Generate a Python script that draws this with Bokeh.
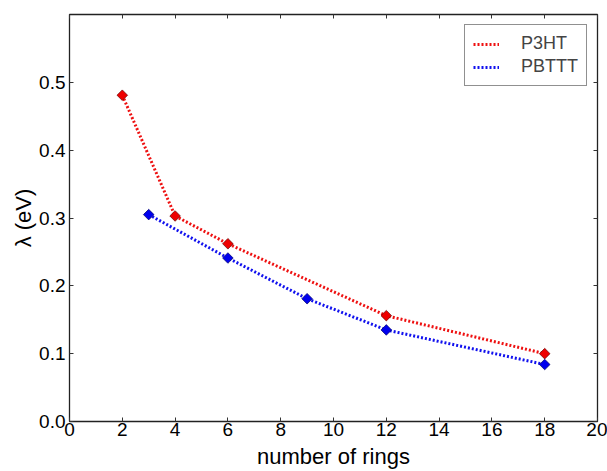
import numpy as np
from bokeh.plotting import figure
from bokeh.models import (LinearAxis, FixedTicker, NumeralTickFormatter, Legend,
                          LegendItem, Range1d, CustomLabelingPolicy)
from bokeh.embed import file_html
from bokeh.resources import INLINE

# data
rings_p3ht = [2, 4, 6, 12, 18]
lam_p3ht = [0.481, 0.303, 0.262, 0.156, 0.100]
rings_pbttt = [3, 6, 9, 12, 18]
lam_pbttt = [0.305, 0.241, 0.181, 0.135, 0.084]
series_names = ["P3HT", "PBTTT"]
x_ticks = [0, 2, 4, 6, 8, 10, 12, 14, 16, 18, 20]
y_ticks = [0.0, 0.1, 0.2, 0.3, 0.4, 0.5]

FONT = "Liberation Sans"

p = figure(width=607, height=471,
           x_range=Range1d(0, 20), y_range=Range1d(0, 0.6),
           output_backend="svg", toolbar_location=None,
           min_border_left=69, min_border_top=14, min_border_right=10,
           min_border_bottom=49)
p.xgrid.visible = False
p.ygrid.visible = False
p.outline_line_color = "#222222"
p.outline_line_width = 1.3
p.background_fill_color = "white"
p.border_fill_color = "white"

xa = p.below[0]
ya = p.left[0]
for ax, ticks in ((xa, x_ticks), (ya, y_ticks)):
    ax.ticker = FixedTicker(ticks=ticks)
    ax.major_tick_in = 4
    ax.major_tick_out = 0
    ax.minor_tick_line_color = None
    ax.axis_line_color = None
    ax.major_tick_line_color = "#333333"
    ax.major_label_text_font = FONT
    ax.major_label_text_font_size = "19px"
    ax.major_label_text_color = "black"
    ax.axis_label_text_font = FONT
    ax.axis_label_text_font_size = "22px"
    ax.axis_label_text_font_style = "normal"
    ax.axis_label_text_color = "black"
ya.formatter = NumeralTickFormatter(format="0.0")
xa.major_label_standoff = 1
ya.major_label_standoff = 4
xa.axis_label = "number of rings"
xa.axis_label_standoff = 5
ya.axis_label = "λ (eV)"
ya.axis_label_standoff = 0

hide_code = """
    for (const i of indices) indices.unset(i)
    return indices
"""
top = LinearAxis(ticker=FixedTicker(ticks=x_ticks), major_label_text_font_size="1px",
                 major_label_policy=CustomLabelingPolicy(code=hide_code),
                 major_label_standoff=0, major_tick_in=4, major_tick_out=0,
                 minor_tick_line_color=None, axis_line_color=None,
                 major_tick_line_color="#333333")
right = LinearAxis(ticker=FixedTicker(ticks=y_ticks), major_label_text_font_size="1px",
                   major_label_policy=CustomLabelingPolicy(code=hide_code),
                   major_label_standoff=0, major_tick_in=4, major_tick_out=0,
                   minor_tick_line_color=None, axis_line_color=None,
                   major_tick_line_color="#333333")
p.add_layout(top, "above")
p.add_layout(right, "right")

l1 = p.line(rings_p3ht, lam_p3ht, line_color="#ee1111", line_width=3, line_dash="2 2")
l2 = p.line(rings_pbttt, lam_pbttt, line_color="#1111ee", line_width=3, line_dash="2 2")
p.scatter(rings_p3ht, lam_p3ht, marker="square", size=7.5, angle=np.pi / 4,
          fill_color="#ee0000", line_color="#660000", line_width=0.7)
p.scatter(rings_pbttt, lam_pbttt, marker="square", size=7.5, angle=np.pi / 4,
          fill_color="#0000ee", line_color="#000066", line_width=0.7)

legend = Legend(items=[LegendItem(label=series_names[0], renderers=[l1]),
                       LegendItem(label=series_names[1], renderers=[l2])],
                location="top_right", margin=10, padding=8, spacing=2,
                glyph_width=26, glyph_height=16, label_height=16,
                label_standoff=22, label_text_font=FONT,
                label_text_font_size="18px", border_line_color="#222222",
                border_line_width=1, background_fill_alpha=1.0)
p.add_layout(legend)

open("out.html", "w").write(file_html(p, INLINE))
